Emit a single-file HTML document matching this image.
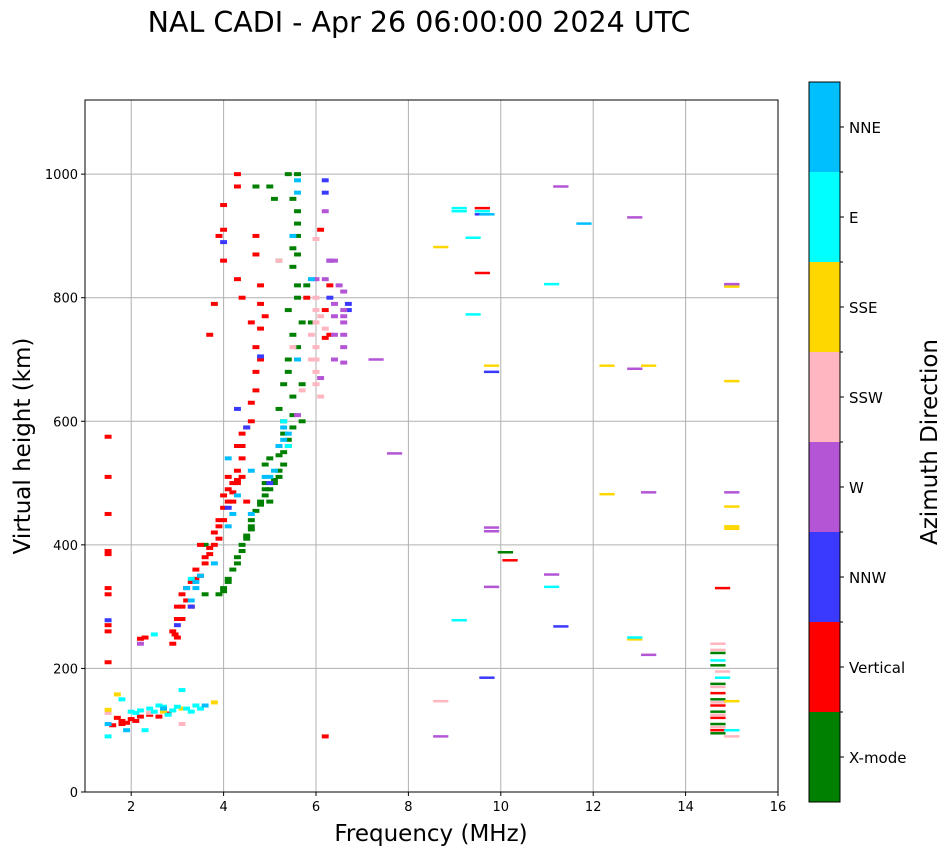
<!DOCTYPE html>
<html><head><meta charset="utf-8"><style>
body{margin:0;background:#fff;}
svg text{font-family:"DejaVu Sans","Liberation Sans",sans-serif;}
</style></head><body>
<svg id="chart" width="951" height="856" xmlns="http://www.w3.org/2000/svg">
<text x="419" y="32" font-size="28.5" text-anchor="middle">NAL CADI - Apr 26 06:00:00 2024 UTC</text>
<g id="grid"></g><g id="marks"></g><g id="axes"></g><g id="cbar"></g>
<text x="431" y="841" font-size="23" text-anchor="middle">Frequency (MHz)</text>
<text transform="translate(30,446) rotate(-90)" font-size="23" text-anchor="middle">Virtual height (km)</text>
<text transform="translate(937,442) rotate(-90)" font-size="23" text-anchor="middle">Azimuth Direction</text>
</svg>
<script>
const xTicks=[2,4,6,8,10,12,14,16];
const yTicks=[0,200,400,600,800,1000];
const dirNames=["X-mode","Vertical","NNW","W","SSW","SSE","E","NNE"];
const dirColors=["#008000","#ff0000","#3a3aff","#b455d6","#ffb6c1","#ffd700","#00ffff","#00bfff"];
const xmode=[[3.9,320],[4.0,330],[4.1,345],[4.2,360],[4.3,380],[4.4,400],[4.5,415],[4.6,430],[4.7,455],[4.8,470],[4.9,480],[5.0,490],[5.1,500],[5.2,510],[5.3,530],[5.4,560],[5.5,590],[5.3,600],[5.5,640],[5.4,680],[5.6,700],[5.5,740],[5.7,760],[5.6,800],[5.5,850],[5.6,870],[5.6,900],[5.6,940],[5.5,960],[5.6,1000],[5.4,1000],[5.0,980],[4.7,980],[5.1,960],[3.6,400],[3.6,320],[5.8,820],[5.9,760],[5.2,620],[5.7,660],[14.7,95],[14.7,110],[14.7,130],[14.7,150],[14.7,175],[14.7,205],[14.7,225],[10.1,388],[4.9,530],[5.2,545],[5.0,470],[4.6,440],[4.9,500],[5.3,580],[4.4,390],[4.0,325],[4.1,340],[4.3,370],[4.5,410],[4.6,425],[4.8,465],[4.9,490],[5.1,505],[5.2,520],[5.3,550],[5.4,570],[5.5,610],[5.6,920],[5.5,880],[5.6,820],[5.4,780],[5.6,720],[5.3,660],[5.7,600],[5.0,540],[5.4,700],[5.2,860]];
const vertical=[[1.5,575],[1.5,510],[1.5,450],[1.5,390],[1.5,385],[1.5,330],[1.5,320],[1.5,270],[1.5,260],[1.5,210],[2.9,240],[2.95,255],[3.0,280],[3.0,300],[3.1,300],[3.1,320],[3.2,330],[3.3,340],[3.4,360],[3.5,350],[3.6,370],[3.7,385],[3.8,400],[3.8,420],[3.9,440],[4.0,460],[4.0,480],[4.1,490],[4.2,500],[4.3,520],[4.4,540],[4.3,560],[4.4,580],[4.6,600],[4.6,630],[4.7,680],[4.7,720],[4.8,750],[4.8,790],[4.4,800],[4.3,830],[4.0,860],[3.9,900],[4.0,910],[4.0,950],[4.3,980],[4.3,1000],[4.7,900],[4.7,870],[4.9,770],[3.7,740],[3.8,790],[3.5,400],[2.3,250],[2.2,248],[1.7,120],[1.8,115],[1.9,112],[2.0,118],[2.2,122],[2.4,125],[1.6,108],[6.3,740],[6.2,735],[6.2,780],[6.3,820],[5.8,800],[6.1,910],[9.6,840],[9.6,945],[10.2,375],[14.8,330],[14.7,100],[14.7,120],[14.7,140],[14.7,160],[6.2,90],[4.5,470],[4.2,470],[3.9,430],[3.3,300],[3.1,280],[2.9,260],[3.2,310],[3.4,345],[3.6,380],[3.7,395],[3.9,410],[4.0,440],[4.1,470],[4.2,485],[4.3,505],[4.4,510],[4.4,560],[4.5,590],[4.7,650],[4.8,700],[4.6,760],[4.8,820],[4.3,500],[4.1,510],[3.0,250],[1.8,110],[2.1,115],[2.6,122],[2.8,127]];
const nnw=[[6.2,990],[6.2,970],[6.3,860],[6.3,800],[6.7,790],[6.7,780],[4.0,890],[4.3,620],[4.5,590],[5.0,500],[4.8,705],[3.3,300],[9.6,935],[9.8,680],[9.7,185],[11.3,268],[15.0,820],[4.1,460],[3.0,270],[1.5,278],[5.2,560]];
const west=[[6.2,940],[6.3,860],[6.4,860],[6.5,820],[6.6,810],[6.4,770],[6.6,770],[6.4,740],[6.6,740],[6.6,720],[6.4,700],[6.6,695],[6.2,830],[6.0,830],[6.1,670],[7.3,700],[7.7,548],[12.9,930],[12.9,685],[13.2,485],[15.0,485],[15.0,822],[11.3,980],[9.8,428],[9.8,422],[9.8,332],[11.1,352],[13.2,222],[8.7,90],[2.2,240],[5.6,610],[6.6,760],[6.4,790],[6.6,780]];
const ssw=[[6.0,780],[6.0,760],[6.0,720],[6.0,700],[6.0,680],[6.0,660],[6.1,640],[6.2,750],[5.9,700],[5.7,650],[5.2,860],[6.0,895],[5.5,720],[8.7,147],[15.0,90],[14.7,240],[14.7,230],[14.8,195],[14.7,170],[14.7,145],[14.7,125],[14.7,105],[1.5,128],[2.4,128],[3.1,110],[5.9,740],[6.0,800],[6.1,770]];
const sse=[[8.7,882],[9.8,690],[12.3,690],[13.2,690],[15.0,665],[15.0,818],[12.3,482],[15.0,462],[15.0,430],[15.0,426],[12.9,247],[15.0,147],[1.5,133],[1.7,158],[2.7,130],[3.1,135],[3.8,145]];
const east=[[9.1,945],[9.1,940],[9.4,897],[9.6,940],[9.4,773],[11.1,822],[11.1,332],[9.1,278],[12.9,250],[14.7,213],[15.0,100],[14.8,185],[5.4,560],[5.3,600],[3.3,345],[2.5,255],[2.0,130],[2.3,100],[2.6,140],[2.8,125],[3.2,135],[3.4,140],[3.5,135],[1.5,90],[1.8,150],[3.1,165],[2.1,128],[2.2,132],[2.4,135],[2.5,130],[2.7,138],[2.9,132],[3.0,138],[3.3,130]];
const nne=[[5.6,990],[5.6,970],[5.5,900],[5.4,580],[5.3,590],[5.1,520],[4.9,510],[4.6,450],[4.3,480],[4.1,430],[3.8,370],[3.5,350],[3.4,340],[3.2,330],[3.3,310],[11.8,920],[9.7,935],[5.9,830],[5.6,700],[5.2,560],[1.5,110],[1.9,100],[2.7,135],[3.6,140],[4.1,540],[4.6,520],[5.3,570],[5.0,510],[4.2,450],[3.4,330]];
const series=[xmode,vertical,nnw,west,ssw,sse,east,nne];

const NS="http://www.w3.org/2000/svg";
const L=85,R=778,T=100,B=792,xMin=1,xMax=16,yMin=0,yMax=1120;
const xs=v=>L+(v-xMin)/(xMax-xMin)*(R-L);
const ys=v=>B-(v-yMin)/(yMax-yMin)*(B-T);
function mk(tag,attrs,parent){const e=document.createElementNS(NS,tag);for(const k in attrs)e.setAttribute(k,attrs[k]);parent.appendChild(e);return e;}
const grid=document.getElementById('grid'),marks=document.getElementById('marks'),axes=document.getElementById('axes'),cbar=document.getElementById('cbar');
xTicks.forEach(t=>{const x=xs(t);
 const g=mk('line',{x1:x,x2:x,y1:T,y2:B,stroke:'#b0b0b0','stroke-width':1},grid);
 
 
 mk('line',{x1:x,x2:x,y1:B,y2:B+4,stroke:'#000'},axes);
 const tx=mk('text',{x:x,y:B+19,'font-size':13,'text-anchor':'middle'},axes);tx.textContent=t;
 
 });
yTicks.forEach(t=>{const y=ys(t);
 const g=mk('line',{x1:L,x2:R,y1:y,y2:y,stroke:'#b0b0b0','stroke-width':1},grid);
 
 
 mk('line',{x1:L-4,x2:L,y1:y,y2:y,stroke:'#000'},axes);
 const tx=mk('text',{x:L-7,y:y+5,'font-size':13,'text-anchor':'end'},axes);tx.textContent=t;
 
 });
const fr=mk('rect',{x:L,y:T,width:R-L,height:B-T,fill:'none',stroke:'#000','stroke-width':1},axes);


series.forEach((pts,d)=>{pts.forEach(p=>{
 const far=p[0]>7;const w=far?0.33:0.15;const h=far?2.5:4;
 const r=mk('rect',{x:xs(p[0]-w/2),y:ys(p[1])-h/2,width:xs(p[0]+w/2)-xs(p[0]-w/2),height:h,fill:dirColors[d]},marks);
 
 });});
const cx=809,cw=31,cT=82,cB=802,sh=(cB-cT)/dirNames.length;
dirNames.forEach((n,i)=>{const y0=cB-(i+1)*sh;
 const r=mk('rect',{x:cx,y:y0,width:cw,height:sh,fill:dirColors[i]},cbar);
 
 
 mk('line',{x1:cx+cw,x2:cx+cw+4,y1:y0+sh/2,y2:y0+sh/2,stroke:'#000'},cbar);
 if(i>0)mk('line',{x1:cx+cw,x2:cx+cw+3,y1:cB-i*sh,y2:cB-i*sh,stroke:'#000'},cbar);
 const tx=mk('text',{x:cx+cw+9,y:y0+sh/2+6,'font-size':15},cbar);tx.textContent=n;
 
 });
mk('rect',{x:cx,y:cT,width:cw,height:cB-cT,fill:'none',stroke:'#000'},cbar);
</script>
</body></html>
